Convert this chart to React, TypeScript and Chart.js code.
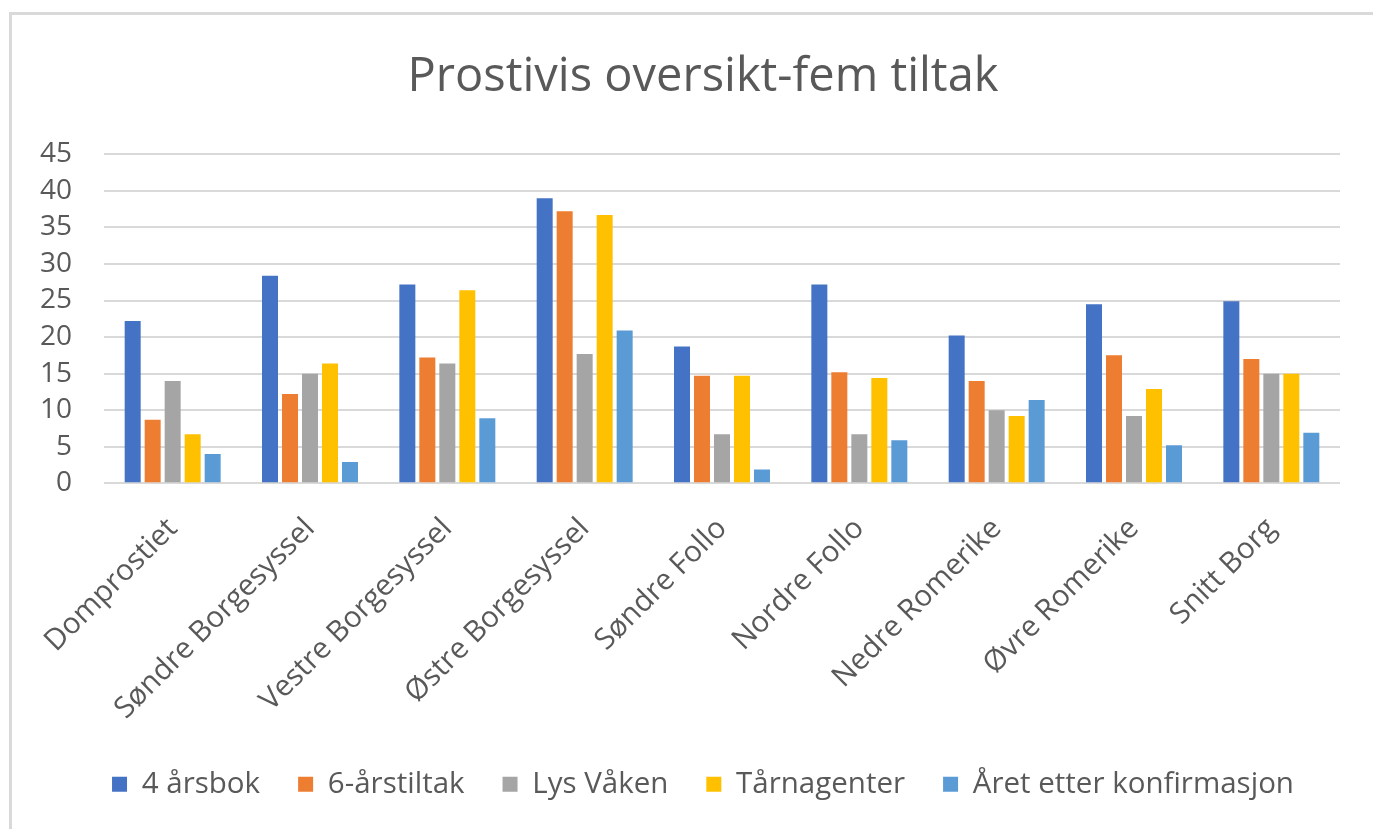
import React, { useEffect, useRef } from "react";
import { Chart, registerables } from "chart.js";

Chart.register(...registerables);

const categories = [
  "Domprostiet",
  "Søndre Borgesyssel",
  "Vestre Borgesyssel",
  "Østre Borgesyssel",
  "Søndre Follo",
  "Nordre Follo",
  "Nedre Romerike",
  "Øvre Romerike",
  "Snitt Borg",
];

const seriesNames = ["4 årsbok", "6-årstiltak", "Lys Våken", "Tårnagenter", "Året etter konfirmasjon"];

const aarsbok4 = [22.2, 28.4, 27.2, 39.0, 18.7, 27.2, 20.2, 24.5, 24.9];
const aarstiltak6 = [8.7, 12.2, 17.2, 37.2, 14.7, 15.2, 14.0, 17.5, 17.0];
const lysVaaken = [14.0, 15.0, 16.4, 17.7, 6.7, 6.7, 10.0, 9.2, 15.0];
const taarnagenter = [6.7, 16.4, 26.4, 36.7, 14.7, 14.4, 9.2, 12.9, 15.0];
const aaretEtter = [4.0, 2.9, 8.9, 20.9, 1.9, 5.9, 11.4, 5.2, 6.9];

const seriesColors = ["#4472C4", "#ED7D31", "#A5A5A5", "#FFC000", "#5B9BD5"];

const yMin = 0;
const yMax = 45;
const yStep = 5;

const titleText = "Prostivis oversikt-fem tiltak";

const FONT = "'Open Sans', 'DejaVu Sans', sans-serif";
const TEXT_COLOR = "#595959";

export default function App() {
  const canvasRef = useRef<HTMLCanvasElement | null>(null);

  useEffect(() => {
    if (!canvasRef.current) return;
    const values = [aarsbok4, aarstiltak6, lysVaaken, taarnagenter, aaretEtter];
    const chart = new Chart(canvasRef.current, {
      type: "bar",
      data: {
        labels: categories,
        datasets: values.map((v, i) => ({
          label: seriesNames[i],
          data: v,
          backgroundColor: seriesColors[i],
          borderWidth: 0,
          categoryPercentage: 0.728,
          barPercentage: 0.8,
          yAxisID: "y",
        })),
      },
      options: {
        responsive: false,
        animation: false,
        devicePixelRatio: 1,
        layout: { padding: { top: 0, left: 0, right: 0, bottom: 20 } },
        plugins: {
          title: {
            display: true,
            text: titleText,
            color: TEXT_COLOR,
            font: { family: FONT, size: 47, weight: "normal" },
            padding: { top: 33, bottom: 48.9 },
          },
          legend: {
            display: true,
            position: "bottom",
            labels: {
              color: TEXT_COLOR,
              font: { family: FONT, size: 29.5 },
              boxWidth: 15,
              boxHeight: 15,
              padding: 38,
            },
          },
          tooltip: { enabled: false },
        },
        scales: {
          x: {
            grid: { display: false },
            border: { display: false },
            ticks: {
              color: TEXT_COLOR,
              font: { family: FONT, size: 29.5 },
              minRotation: 45,
              maxRotation: 45,
              autoSkip: false,
              padding: 20,
            },
            afterFit: (s: any) => {
              s.height = 248.2;
            },
          },
          y: {
            min: yMin,
            max: yMax,
            position: "left",
            grid: { color: "#d9d9d9", lineWidth: 2, drawTicks: false },
            border: { display: false },
            ticks: {
              stepSize: yStep,
              autoSkip: false,
              color: TEXT_COLOR,
              font: { family: FONT, size: 28 },
              padding: 32,
            },
            afterFit: (s: any) => {
              s.width = 91;
            },
          },
          yRight: {
            position: "right",
            display: true,
            grid: { display: false, drawTicks: false },
            border: { display: false },
            ticks: { display: false },
            afterFit: (s: any) => {
              s.width = 53;
            },
          },
        },
      },
    });
    return () => chart.destroy();
  }, []);

  return (
    <div
      style={{
        position: "fixed",
        left: 0,
        top: 0,
        width: 1373,
        height: 829,
        overflow: "hidden",
        background: "#ffffff",
      }}
    >
      <div
        style={{
          position: "absolute",
          left: 9,
          top: 12,
          width: 1400,
          height: 840,
          borderLeft: "3px solid #d9d9d9",
          borderTop: "3px solid #d9d9d9",
        }}
      />
      <canvas
        ref={canvasRef}
        width={1380}
        height={813}
        style={{ position: "absolute", left: 13, top: 16, width: 1380, height: 813 }}
      />
    </div>
  );
}
